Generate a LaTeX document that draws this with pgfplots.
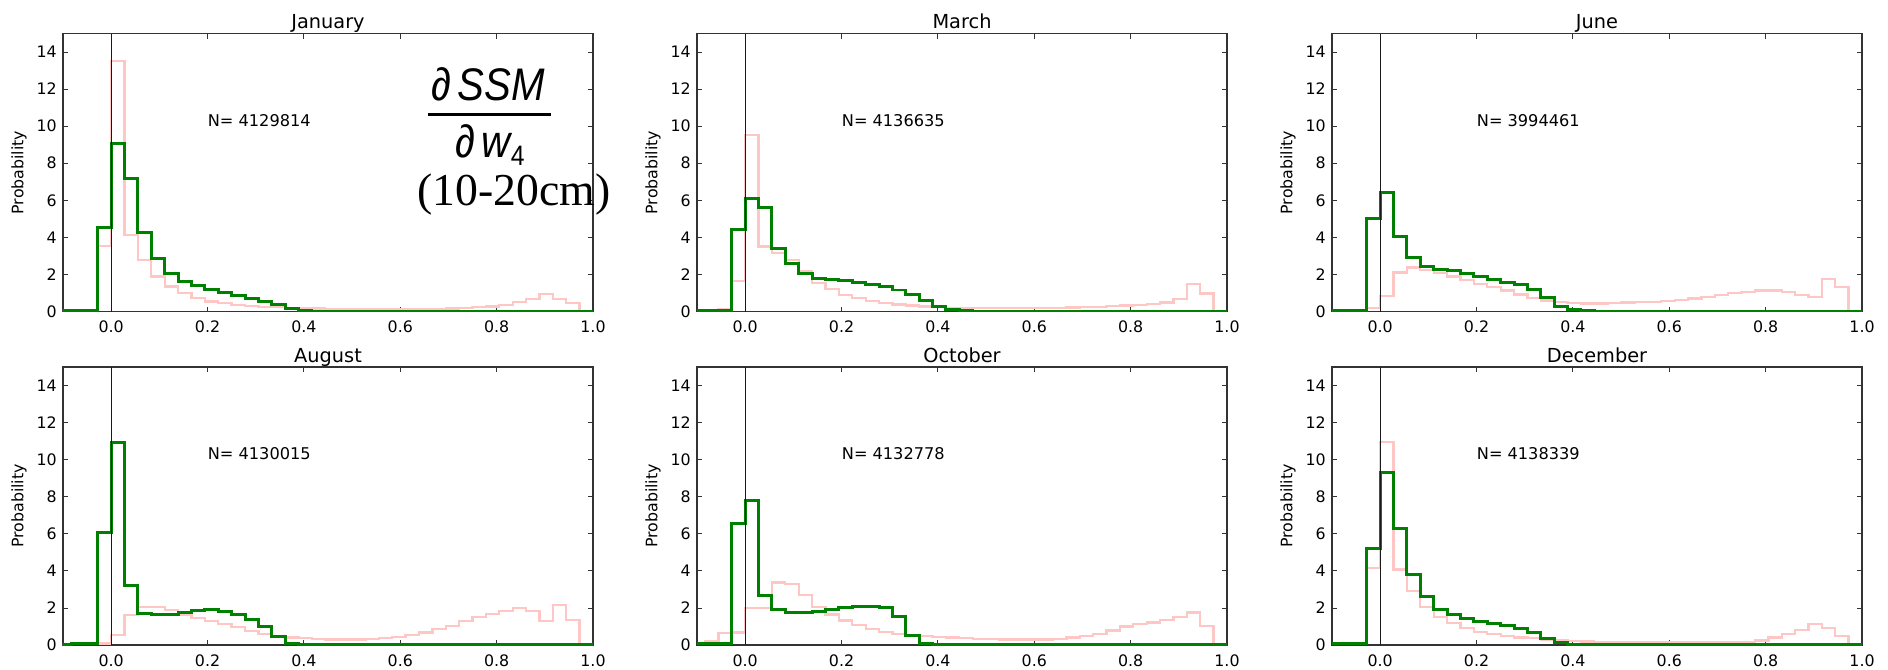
\documentclass[border=0pt]{standalone}
\usepackage{pgfplots}
\pgfplotsset{compat=1.18}
\usepackage{pgfplotstable}
\usepackage{fontspec}
\setmainfont{DejaVu Sans}
\newfontfamily\formfont{Liberation Sans}
\newfontfamily\serifform{Liberation Serif}
\definecolor{hgreen}{RGB}{0,128,0}
\definecolor{hpink}{RGB}{255,198,198}

% histogram heights, bin edges k/36 (left edge of each step)
\pgfplotstableread{
x       JanG  JanP  MarG MarP  JunG JunP  AugG  AugP  OctG OctP  DecG DecP
-0.1111 0.05  0.05  0.05 0.08  0.05 0.03  0.05  0.03  0.06 0.10  0.06 0.05
-0.0833 0.06  0.07  0.06 0.10  0.06 0.04  0.06  0.04  0.07 0.20  0.07 0.08
-0.0556 0.08  0.10  0.08 0.15  0.08 0.05  0.08  0.05  0.09 0.65  0.08 0.12
-0.0278 4.55  3.54  4.40 1.65  5.00 0.18  6.06  0.08  6.53 0.68  5.22 4.14
 0.0000 9.08  13.5  6.08 9.53  6.42 0.85  10.92 0.55  7.82 1.98  9.32 10.94
 0.0278 7.16  4.14  5.60 3.50  4.05 2.10  3.20  1.60  2.66 2.00  6.30 4.08
 0.0556 4.26  2.79  3.42 3.15  2.93 2.37  1.70  2.07  1.92 3.38  3.81 2.93
 0.0833 2.88  1.89  2.57 2.79  2.43 2.25  1.62  2.07  1.76 3.30  2.61 2.07
 0.1111 2.07  1.35  2.03 2.16  2.28 2.07  1.67  1.90  1.74 2.70  1.92 1.53
 0.1389 1.62  0.99  1.80 1.53  2.21 1.89  1.78  1.62  1.83 2.07  1.62 1.17
 0.1667 1.40  0.72  1.75 1.20  2.07 1.71  1.87  1.45  1.94 1.65  1.44 0.90
 0.1944 1.20  0.54  1.67 0.90  1.89 1.50  1.89  1.30  2.03 1.32  1.29 0.72
 0.2222 1.02  0.45  1.56 0.72  1.71 1.31  1.82  1.15  2.10 1.08  1.17 0.59
 0.2500 0.86  0.36  1.44 0.58  1.56 1.13  1.65  0.98  2.07 0.88  1.04 0.49
 0.2778 0.68  0.30  1.33 0.46  1.45 0.92  1.38  0.75  2.03 0.70  0.90 0.41
 0.3056 0.54  0.26  1.16 0.38  1.18 0.74  1.00  0.58  1.56 0.60  0.70 0.36
 0.3333 0.36  0.23  0.92 0.32  0.73 0.60  0.47  0.48  0.53 0.52  0.34 0.30
 0.3611 0.15  0.20  0.57 0.27  0.28 0.50  0.08  0.41  0.09 0.47  0.13 0.26
 0.3889 0.05  0.18  0.27 0.23  0.09 0.45  0.03  0.36  0.03 0.43  0.04 0.22
 0.4167 0.02  0.16  0.11 0.20  0.04 0.43  0.02  0.33  0.02 0.40  0.02 0.19
 0.4444 0.02  0.15  0.05 0.18  0.02 0.43  0.02  0.30  0.02 0.37  0.02 0.17
 0.4722 0.02  0.14  0.02 0.17  0.02 0.45  0.02  0.29  0.02 0.34  0.02 0.15
 0.5000 0.02  0.13  0.02 0.17  0.02 0.48  0.02  0.29  0.02 0.31  0.02 0.14
 0.5278 0.02  0.12  0.02 0.17  0.02 0.50  0.02  0.33  0.02 0.30  0.02 0.14
 0.5556 0.02  0.12  0.02 0.17  0.02 0.52  0.02  0.38  0.02 0.29  0.02 0.14
 0.5833 0.02  0.12  0.02 0.17  0.02 0.56  0.02  0.45  0.02 0.29  0.02 0.14
 0.6111 0.02  0.12  0.02 0.18  0.02 0.61  0.02  0.55  0.02 0.30  0.02 0.14
 0.6389 0.02  0.13  0.02 0.19  0.02 0.70  0.02  0.67  0.02 0.34  0.02 0.14
 0.6667 0.02  0.14  0.02 0.21  0.02 0.78  0.02  0.85  0.02 0.40  0.02 0.14
 0.6944 0.02  0.16  0.02 0.23  0.02 0.88  0.02  1.04  0.02 0.49  0.02 0.14
 0.7222 0.02  0.19  0.02 0.26  0.02 0.98  0.02  1.30  0.02 0.60  0.02 0.15
 0.7500 0.02  0.23  0.02 0.29  0.02 1.07  0.02  1.50  0.02 0.78  0.02 0.18
 0.7778 0.02  0.27  0.02 0.32  0.02 1.14  0.02  1.67  0.02 1.00  0.02 0.25
 0.8056 0.02  0.35  0.02 0.36  0.02 1.14  0.02  1.82  0.02 1.12  0.02 0.40
 0.8333 0.02  0.50  0.02 0.40  0.02 1.04  0.02  1.98  0.02 1.22  0.02 0.60
 0.8611 0.02  0.66  0.02 0.48  0.02 0.88  0.02  1.85  0.02 1.35  0.02 0.80
 0.8889 0.02  0.93  0.02 0.68  0.02 0.77  0.02  1.31  0.02 1.52  0.02 1.12
 0.9167 0.02  0.66  0.02 1.50  0.02 1.76  0.02  2.16  0.02 1.76  0.02 0.93
 0.9444 0.02  0.45  0.02 0.97  0.02 1.31  0.02  1.35  0.02 1.02  0.02 0.50
 0.9722 0.02  0     0.02 0     0.02 0     0.02  0     0.02 0     0.02 0
 1.0000 0.02  0     0.02 0     0.02 0     0.02  0     0.02 0     0.02 0
}\hist

\pgfplotsset{
  panel/.style={
    scale only axis, width=10.6cm, height=5.56cm, anchor=south west,
    xmin=-0.1, xmax=1.0, ymin=0, ymax=15,
    xtick={0,0.2,0.4,0.6,0.8,1.0},
    ytick={0,2,4,6,8,10,12,14},
    /pgf/number format/assume math mode=true,
    x tick label style={/pgf/number format/fixed, /pgf/number format/fixed zerofill,
      /pgf/number format/precision=1, yshift=-2pt},
    tick label style={font=\fontsize{9}{10}\selectfont},
    tick align=inside, major tick length=0.1cm,
    tick style={black!80, line width=0.5pt},
    axis line style={black!80, line width=0.7pt},
    ylabel={Probability},
    ylabel style={at={(axis description cs:-0.083,0.5)}, anchor=center,
      font=\fontsize{9}{10}\selectfont},
    title style={at={(0.5,1)}, anchor=base, yshift=-0.12cm,
      font=\fontsize{11}{13}\selectfont},
  },
  pinkh/.style={hpink, line width=1.3pt, const plot mark left},
  greenh/.style={hgreen, line width=1.7pt, const plot mark left},
  zline/.style={black!90, line width=0.6pt},
}
\tikzset{ntext/.style={anchor=west, inner sep=0pt, font=\fontsize{9.2}{11}\selectfont},
  fracfont/.style={anchor=base, inner sep=0pt, xscale=0.88,
    font=\formfont\itshape\fontsize{26}{28}\selectfont}}

\begin{document}
\begin{tikzpicture}
\path[use as bounding box] (0,0) rectangle (37.76,13.38);

\begin{axis}[panel, at={(1.26cm,7.15cm)}, title={January}]
  \addplot[pinkh] table[x=x, y=JanP] {\hist};
  \addplot[greenh] table[x=x, y=JanG] {\hist};
  \addplot[zline] coordinates {(0,0) (0,15)};
  \node[ntext] at (axis cs:0.2,10.3) {N= 4129814};
\end{axis}

\begin{axis}[panel, at={(13.94cm,7.15cm)}, title={March}]
  \addplot[pinkh] table[x=x, y=MarP] {\hist};
  \addplot[greenh] table[x=x, y=MarG] {\hist};
  \addplot[zline] coordinates {(0,0) (0,15)};
  \node[ntext] at (axis cs:0.2,10.3) {N= 4136635};
\end{axis}

\begin{axis}[panel, at={(26.64cm,7.15cm)}, title={June}]
  \addplot[pinkh] table[x=x, y=JunP] {\hist};
  \addplot[greenh] table[x=x, y=JunG] {\hist};
  \addplot[zline] coordinates {(0,0) (0,15)};
  \node[ntext] at (axis cs:0.2,10.3) {N= 3994461};
\end{axis}

\begin{axis}[panel, at={(1.26cm,0.48cm)}, title={August}]
  \addplot[pinkh] table[x=x, y=AugP] {\hist};
  \addplot[greenh] table[x=x, y=AugG] {\hist};
  \addplot[zline] coordinates {(0,0) (0,15)};
  \node[ntext] at (axis cs:0.2,10.3) {N= 4130015};
\end{axis}

\begin{axis}[panel, at={(13.94cm,0.48cm)}, title={October}]
  \addplot[pinkh] table[x=x, y=OctP] {\hist};
  \addplot[greenh] table[x=x, y=OctG] {\hist};
  \addplot[zline] coordinates {(0,0) (0,15)};
  \node[ntext] at (axis cs:0.2,10.3) {N= 4132778};
\end{axis}

\begin{axis}[panel, at={(26.64cm,0.48cm)}, title={December}]
  \addplot[pinkh] table[x=x, y=DecP] {\hist};
  \addplot[greenh] table[x=x, y=DecG] {\hist};
  \addplot[zline] coordinates {(0,0) (0,15)};
  \node[ntext] at (axis cs:0.2,10.3) {N= 4138339};
\end{axis}

% derivative label in the first panel
\node[fracfont] at (9.76,11.38) {∂\,SSM};
\draw[line width=0.05cm] (8.56,11.09) -- (11.02,11.09);
\node[fracfont] at (9.8,10.24) {∂\,w\raisebox{-0.35ex}{\upshape\fontsize{16}{18}\selectfont 4}};
\node[anchor=base, inner sep=0pt, font=\serifform\fontsize{26}{28}\selectfont]
  at (10.28,9.28) {(10-20cm)};
\end{tikzpicture}
\end{document}
